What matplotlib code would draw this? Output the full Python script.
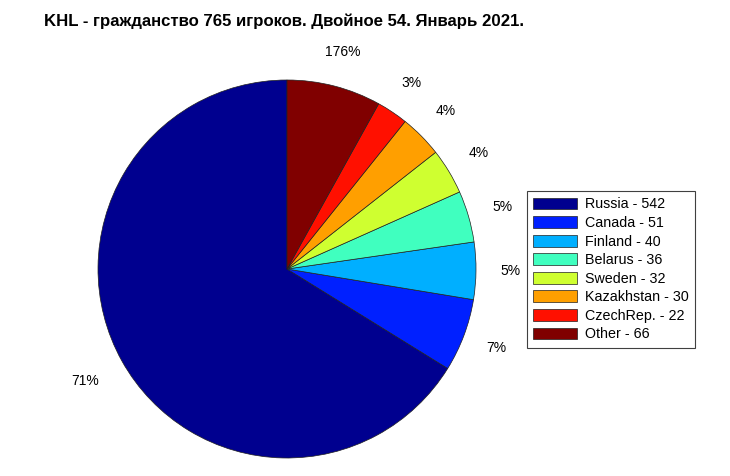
import numpy as np
import matplotlib
matplotlib.use("Agg")
import matplotlib.pyplot as plt

countries = ["Russia", "Canada", "Finland", "Belarus", "Sweden", "Kazakhstan", "CzechRep.", "Other"]
counts = [542, 51, 40, 36, 32, 30, 22, 66]
pct_labels = ["71%", "7%", "5%", "5%", "4%", "4%", "3%", "176%"]
title = "KHL - гражданство 765 игроков. Двойное 54. Январь 2021."

plt.rcParams['font.family'] = ['Liberation Sans', 'DejaVu Sans']


def matlab_jet(n):
    m = int(np.ceil(n / 4))
    u = np.concatenate([np.arange(1, m + 1) / m, np.ones(m - 1), np.arange(m, 0, -1) / m])
    g = int(np.ceil(m / 2)) - (1 if n % 4 == 1 else 0) + np.arange(1, len(u) + 1)
    rr = g + m
    b = g - m
    J = np.zeros((n, 3))
    for idx, val in zip(rr, u):
        if 1 <= idx <= n:
            J[idx - 1, 0] = val
    for idx, val in zip(g, u):
        if 1 <= idx <= n:
            J[idx - 1, 1] = val
    for idx, val in zip(b, u):
        if 1 <= idx <= n:
            J[idx - 1, 2] = val
    return J


jet64 = matlab_jet(64)
rows = np.round(np.linspace(0, 63, len(counts))).astype(int)
colors = jet64[rows]

fig = plt.figure(figsize=(7.3, 4.76), dpi=100)
W, H = 730, 476
cx, cy, r = 287, 269, 189
ax = fig.add_axes([(cx - r) / W, (H - cy - r) / H, 2 * r / W, 2 * r / H])

wedges, _ = ax.pie(counts, colors=colors, startangle=90, counterclock=True,
                   wedgeprops=dict(edgecolor="#202020", linewidth=0.5), radius=1)
ax.set_xlim(-1, 1)
ax.set_ylim(-1, 1)
ax.set_aspect('equal')

dists = [1.22, 1.185, 1.185, 1.185, 1.185, 1.185, 1.185, 1.185]
for w, lab, d in zip(wedges, pct_labels, dists):
    ang = np.deg2rad((w.theta1 + w.theta2) / 2)
    ax.text(d * np.cos(ang), d * np.sin(ang), lab, ha='center', va='center',
            fontsize=10, clip_on=False)

leg_labels = [f"{c} - {n}" for c, n in zip(countries, counts)]
leg = fig.legend(wedges, leg_labels, loc='upper left',
                 bbox_to_anchor=(527 / W, 1 - 191 / H), fontsize=10.3,
                 fancybox=False, shadow=False, framealpha=1, edgecolor="#404040",
                 handlelength=3.05, handleheight=0.9, labelspacing=0.32,
                 handletextpad=0.55, borderpad=0.45, borderaxespad=0)
leg.get_frame().set_linewidth(0.8)

fig.text(283.5 / W, 1 - 21 / H, title, ha='center', va='center', fontsize=12.1, fontweight='bold')

fig.savefig("out.png", dpi=100)
